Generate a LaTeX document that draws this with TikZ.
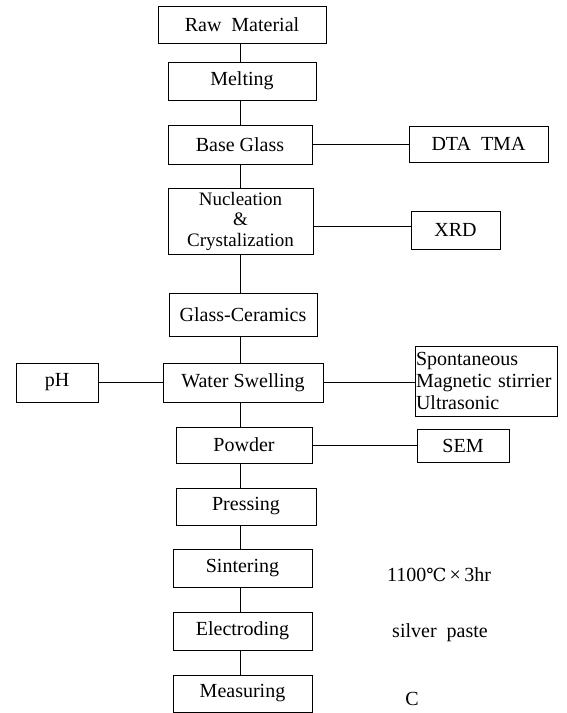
\documentclass[tikz,border=0pt]{standalone}
\usepackage{fontspec}
\setmainfont{Liberation Serif}
\newfontfamily\djv{DejaVu Serif}
\begin{document}
\begin{tikzpicture}[x=1pt,y=-1pt,
  box/.style={draw=black, line width=0.8pt, inner sep=0pt, align=center, font=\fontsize{20}{22}\selectfont},
  lbl/.style={inner sep=0pt, font=\fontsize{20}{22}\selectfont},
  link/.style={draw=black, line width=0.8pt}]
\useasboundingbox (0,0) rectangle (566,713);
\fill[white] (0,0) rectangle (566,713);
\coordinate (spine) at (240,0);
\node[box, minimum width=168pt, minimum height=37pt] (raw) at (242,24.5) {Raw\ \ Material};
\node[box, minimum width=148pt, minimum height=38pt] (melt) at (242,81) {Melting};
\node[box, minimum width=144pt, minimum height=39pt] (base) at (240,144.5) {Base Glass};
\node[box, minimum width=139pt, minimum height=36pt] (dta) at (478.5,144) {DTA\ \ TMA};
\node[box, minimum width=145pt, minimum height=66pt, font=\fontsize{19}{20.5}\selectfont] (nuc) at (240.5,221) {Nucleation\\\&\\Crystalization};
\node[box, minimum width=89pt, minimum height=38pt] (xrd) at (455.5,230) {XRD};
\node[box, minimum width=148pt, minimum height=43pt] (glass) at (243,314.5) {Glass-Ceramics};
\node[box, minimum width=160pt, minimum height=39pt] (water) at (243,382.5) {Water Swelling};
\node[box, minimum width=82pt, minimum height=39pt] (ph) at (57,382.5) {pH};
\node[box, minimum width=142pt, minimum height=70pt, align=left, text width=140pt, inner sep=1pt, font=\fontsize{20}{22}\selectfont] (spont) at (486,381) {Spontaneous\\Magnetic stirrier\\Ultrasonic};
\node[box, minimum width=136pt, minimum height=36pt] (powder) at (244,445) {Powder};
\node[box, minimum width=92pt, minimum height=33pt] (sem) at (463,445.5) {SEM};
\node[box, minimum width=140pt, minimum height=37pt] (press) at (246,506.5) {Pressing};
\node[box, minimum width=139pt, minimum height=38pt] (sinter) at (242.5,568) {Sintering};
\node[box, minimum width=139pt, minimum height=38pt] (electro) at (242.5,631) {Electroding};
\node[box, minimum width=139pt, minimum height=37pt] (meas) at (242.5,693.5) {Measuring};
\node[lbl] (cond1) at (439,575) {1100{\djv\fontsize{18}{20}\selectfont ℃}\,×\,3hr};
\node[lbl] (cond2) at (440,633) {silver\ \ paste};
\node[lbl] (cond3) at (412,699) {C};
% spine
\draw[link] (raw.south -| spine) -- (melt.north -| spine);
\draw[link] (melt.south -| spine) -- (base.north -| spine);
\draw[link] (base.south -| spine) -- (nuc.north -| spine);
\draw[link] (nuc.south -| spine) -- (glass.north -| spine);
\draw[link] (glass.south -| spine) -- (water.north -| spine);
\draw[link] (water.south -| spine) -- (powder.north -| spine);
\draw[link] (powder.south -| spine) -- (press.north -| spine);
\draw[link] (press.south -| spine) -- (sinter.north -| spine);
\draw[link] (sinter.south -| spine) -- (electro.north -| spine);
\draw[link] (electro.south -| spine) -- (meas.north -| spine);
% side links
\draw[link] (base.east) -- (dta.west |- base.east);
\coordinate (xrdy) at (0,226);
\draw[link] (nuc.east |- xrdy) -- (xrd.west |- xrdy);
\draw[link] (ph.east) -- (water.west);
\draw[link] (water.east) -- (spont.west |- water.east);
\draw[link] (powder.east) -- (sem.west |- powder.east);
\end{tikzpicture}
\end{document}
